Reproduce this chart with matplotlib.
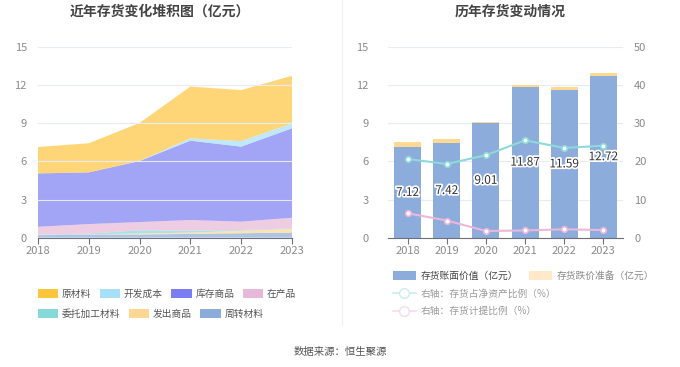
import matplotlib
matplotlib.use("Agg")
import matplotlib.pyplot as plt
import matplotlib.patheffects as pe
from matplotlib.patches import Patch
from matplotlib.lines import Line2D
import numpy as np

plt.rcParams['font.family'] = ['Noto Sans CJK SC', 'DejaVu Sans']

years = ['2018', '2019', '2020', '2021', '2022', '2023']
# stacked layers (bottom -> top), 亿元
zhouzhuan = [0.20, 0.25, 0.25, 0.30, 0.35, 0.40]   # 周转材料
fachu = [0.02, 0.02, 0.08, 0.10, 0.20, 0.30]       # 发出商品
weituo = [0.03, 0.05, 0.25, 0.15, 0.05, 0.05]      # 委托加工材料
zaichan = [0.61, 0.75, 0.65, 0.84, 0.66, 0.82]     # 在产品
kucun = [4.19, 4.06, 4.79, 6.23, 5.89, 7.02]       # 库存商品
kaifa = [0.00, 0.00, 0.02, 0.18, 0.44, 0.39]       # 开发成本
yuancai = [2.07, 2.29, 2.97, 4.07, 4.00, 3.74]     # 原材料

book_value = [7.12, 7.42, 9.01, 11.87, 11.59, 12.72]   # 存货账面价值
impairment = [0.42, 0.33, 0.10, 0.15, 0.22, 0.21]      # 存货跌价准备
ratio_net = [20.6, 19.3, 21.6, 25.5, 23.5, 24.1]       # 存货占净资产比例
ratio_prov = [6.4, 4.5, 1.75, 1.9, 2.2, 2.0]           # 存货计提比例

layer_names = ['周转材料', '发出商品', '委托加工材料', '在产品', '库存商品', '开发成本', '原材料']
layer_vals = [zhouzhuan, fachu, weituo, zaichan, kucun, kaifa, yuancai]
legend_cols = {'原材料': '#FFC53D', '开发成本': '#A5DFF9', '库存商品': '#7B7EF2',
               '在产品': '#E8B8D8', '委托加工材料': '#87D8D8', '发出商品': '#FFD793',
               '周转材料': '#8CACDB'}

fig = plt.figure(figsize=(6.8, 3.67), dpi=100)
W, H = 680, 367

def rect(x0, x1, y0, y1):
    return [x0 / W, 1 - y1 / H, (x1 - x0) / W, (y1 - y0) / H]

grid_c = '#E6EBF5'
tick_c = '#8A8A8A'
axis_c = '#6E7079'

# ---------- left: stacked area ----------
ax1 = fig.add_axes(rect(38, 292, 46.7, 237.7))
x = np.arange(len(years))
ax1.stackplot(x, *layer_vals, colors=[legend_cols[n] for n in layer_names], alpha=0.7, linewidth=0)
ax1.set_xlim(0, 5)
ax1.set_ylim(0, 15)
ax1.set_yticks([0, 3, 6, 9, 12, 15])
ax1.set_xticks(x)
ax1.set_xticklabels(years)
ax1.grid(axis='y', color=grid_c, linewidth=0.8)
ax1.set_axisbelow(False)
for s in ['top', 'right', 'left']:
    ax1.spines[s].set_visible(False)
ax1.spines['bottom'].set_color(axis_c)
ax1.tick_params(axis='y', length=0, colors=tick_c, labelsize=8, pad=8)
ax1.tick_params(axis='x', length=4, color=axis_c, colors=tick_c, labelsize=8, pad=2)

order = ['原材料', '开发成本', '库存商品', '在产品', '委托加工材料', '发出商品', '周转材料']
handles = [Patch(facecolor=legend_cols[n], edgecolor='none', label=n) for n in order]
fig.legend(handles=handles[:4], loc='upper left', bbox_to_anchor=(29 / W, 1 - 280 / H),
           ncol=4, frameon=False, fontsize=7, handlelength=2.1, handleheight=1.1,
           handletextpad=0.4, columnspacing=0.85, labelcolor='#555555')
fig.legend(handles=handles[4:], loc='upper left', bbox_to_anchor=(29 / W, 1 - 300 / H),
           ncol=3, frameon=False, fontsize=7, handlelength=2.1, handleheight=1.1,
           handletextpad=0.4, columnspacing=0.85, labelcolor='#555555')

# ---------- right: bars + lines ----------
ax2 = fig.add_axes(rect(388, 623, 46.7, 237.7))
bar_c = '#8CACDB'
imp_c = '#FFD98F'
ax2.bar(x, book_value, width=0.69, color=bar_c, zorder=2)
ax2.bar(x, impairment, width=0.69, bottom=book_value, color=imp_c, zorder=2)
for xi, v in zip(x, book_value):
    ax2.text(xi, v / 2, f'{v:.2f}', ha='center', va='center', fontsize=8.5, color='#333333',
             zorder=5, path_effects=[pe.withStroke(linewidth=2.5, foreground='white')])
ax2.set_xlim(-0.5, 5.5)
ax2.set_ylim(0, 15)
ax2.set_yticks([0, 3, 6, 9, 12, 15])
ax2.set_xticks(x)
ax2.set_xticklabels(years)
ax2.grid(axis='y', color=grid_c, linewidth=0.8, zorder=0)
ax2.set_axisbelow(True)
for s in ['top', 'right', 'left']:
    ax2.spines[s].set_visible(False)
ax2.spines['bottom'].set_color(axis_c)
ax2.tick_params(axis='y', length=0, colors=tick_c, labelsize=8, pad=14)
ax2.tick_params(axis='x', length=4, color=axis_c, colors=tick_c, labelsize=8, pad=2)

ax3 = ax2.twinx()
teal = '#8ED9DA'
pink = '#EBB7DA'
ax3.plot(x, ratio_net, color=teal, linewidth=1.5, marker='o', markersize=4,
         markerfacecolor='white', markeredgecolor=teal, markeredgewidth=1.2, zorder=4)
ax3.plot(x, ratio_prov, color=pink, linewidth=1.5, marker='o', markersize=4,
         markerfacecolor='white', markeredgecolor=pink, markeredgewidth=1.2, zorder=4)
ax3.set_ylim(0, 50)
ax3.set_yticks([0, 10, 20, 30, 40, 50])
for s in ['top', 'right', 'left', 'bottom']:
    ax3.spines[s].set_visible(False)
ax3.tick_params(axis='y', length=0, colors=tick_c, labelsize=8, pad=8)

h_bar = [Patch(facecolor=bar_c, edgecolor='none', label='存货账面价值（亿元）'),
         Patch(facecolor='#FFE9C8', edgecolor='none', label='存货跌价准备（亿元）')]
leg = fig.legend(handles=h_bar, loc='upper left', bbox_to_anchor=(384 / W, 1 - 262 / H),
                 ncol=2, frameon=False, fontsize=7, handlelength=2.4, handleheight=1.1,
                 handletextpad=0.45, columnspacing=1.1)
leg.get_texts()[0].set_color('#444444')
leg.get_texts()[1].set_color('#888888')
h_line = [Line2D([0], [0], color='#C8EEEF', marker='o', markersize=7, markerfacecolor='white',
                 markeredgecolor='#C8EEEF', linewidth=1.2, label='右轴：存货占净资产比例（%）'),
          Line2D([0], [0], color='#F5DCEC', marker='o', markersize=7, markerfacecolor='white',
                 markeredgecolor='#F5DCEC', linewidth=1.2, label='右轴：存货计提比例（%）')]
fig.legend(handles=h_line, loc='upper left', bbox_to_anchor=(384 / W, 1 - 280 / H),
           ncol=1, frameon=False, fontsize=7, handlelength=2.4, handletextpad=0.45,
           labelspacing=0.75, labelcolor='#999999')

# ---------- titles, separator, footer ----------
fig.text(160 / W, 1 - 12 / H, '近年存货变化堆积图（亿元）', ha='center', va='center',
         fontsize=10, fontweight='bold', color='#444444')
fig.text(510 / W, 1 - 12 / H, '历年存货变动情况', ha='center', va='center',
         fontsize=10, fontweight='bold', color='#444444')
fig.add_artist(Line2D([342 / W, 342 / W], [1 - 325 / H, 1.0], color='#F0F0F0', linewidth=0.8))
fig.text(340 / W, 1 - 352 / H, '数据来源：恒生聚源', ha='center', va='center',
         fontsize=7.5, color='#555555')

fig.savefig('out.png', dpi=100, facecolor='white')
